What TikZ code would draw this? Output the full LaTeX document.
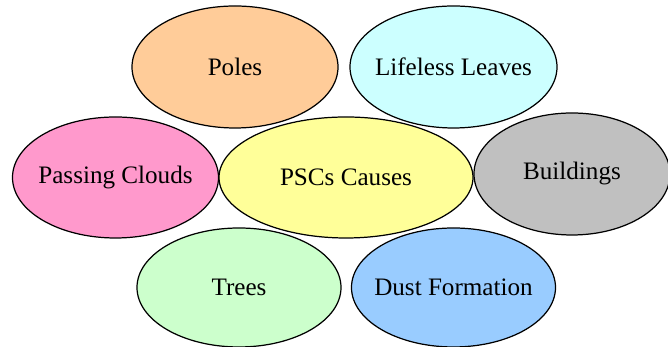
\documentclass[tikz,border=0pt]{standalone}
\usepackage{fontspec}
\setmainfont{Liberation Serif}
\usetikzlibrary{shapes.geometric}

\definecolor{polesfill}{HTML}{FFCC99}
\definecolor{leavesfill}{HTML}{CCFFFF}
\definecolor{cloudsfill}{HTML}{FF99CC}
\definecolor{causefill}{HTML}{FFFF99}
\definecolor{buildfill}{HTML}{C0C0C0}
\definecolor{treesfill}{HTML}{CCFFCC}
\definecolor{dustfill}{HTML}{99CCFF}

\tikzset{
    causebubble/.style={ellipse, draw=black, line width=0.7pt, inner sep=0pt,
        font=\fontsize{14.3}{17}\selectfont},
}
% zero-width box so the label does not stretch the ellipse
\newcommand{\bubbletext}[1]{\makebox[0pt]{#1}}

\begin{document}
\begin{tikzpicture}
        \useasboundingbox (0,0) rectangle (13.36,6.94);

        % -- centre ellipse ------------------------------------------------------
        \node[causebubble, fill=causefill, minimum width=5.08cm, minimum height=2.42cm]
            (psc) at (6.92, 3.39) {\bubbletext{PSCs Causes}};

        % -- surrounding causes: name/x/y/width/height/fill/label ----------------
        \foreach \nm/\x/\y/\w/\h/\col/\lbl in {
                poles/4.70/5.60/4.12/2.44/polesfill/Poles,
                leaves/9.07/5.60/4.14/2.44/leavesfill/Lifeless Leaves,
                clouds/2.31/3.39/4.12/2.42/cloudsfill/Passing Clouds,
                build/11.44/3.46/3.92/2.44/buildfill/Buildings,
                trees/4.78/1.19/4.08/2.38/treesfill/Trees,
                dust/9.07/1.19/4.08/2.38/dustfill/Dust Formation} {
            \node[causebubble, fill=\col, minimum width=\w cm, minimum height=\h cm]
                (\nm) at (\x, \y) {\bubbletext{\lbl}};
        }
    \end{tikzpicture}
\end{document}
